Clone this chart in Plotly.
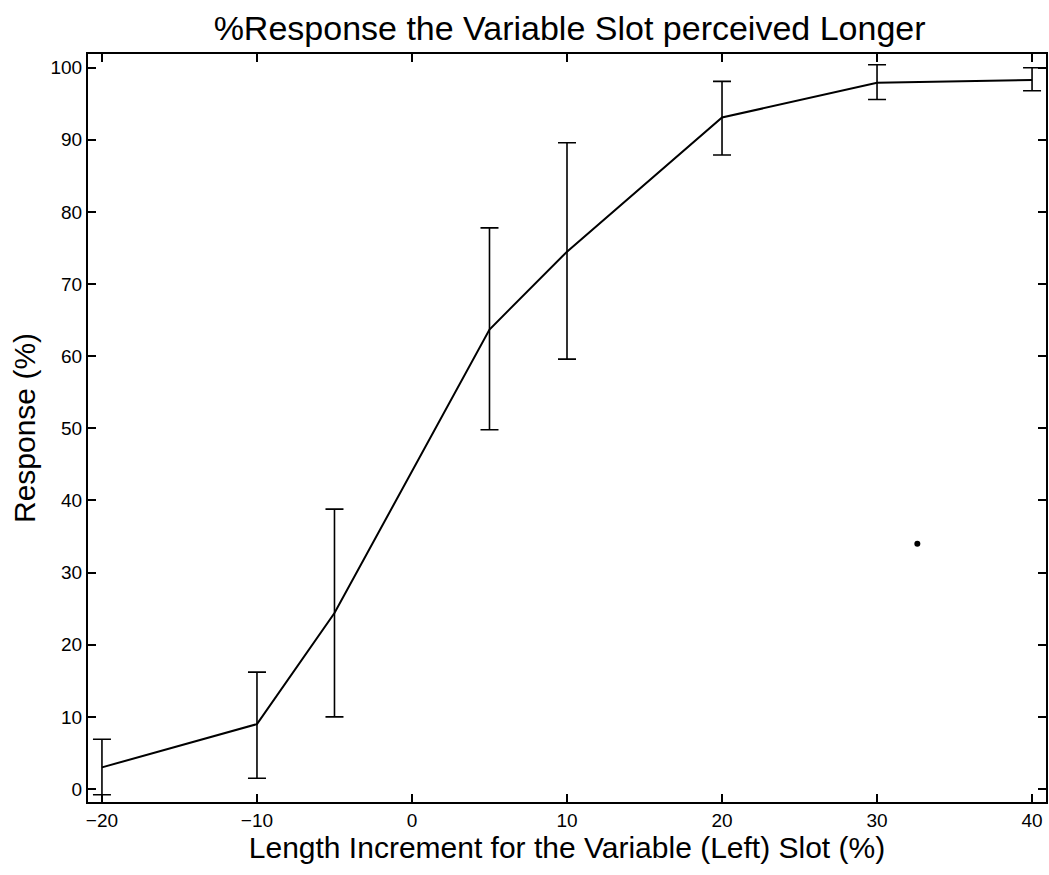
import plotly.graph_objects as go

# Data
x_vals = [-20, -10, -5, 5, 10, 20, 30, 40]
response = [3.0, 9.0, 24.4, 63.7, 74.5, 93.1, 97.9, 98.3]
err_plus = [3.9, 7.2, 14.4, 14.1, 15.1, 5.0, 2.5, 1.7]
err_minus = [3.8, 7.5, 14.4, 13.9, 14.9, 5.2, 2.3, 1.5]
stray_x = [32.6]
stray_y = [34.0]

x_ticks = [-20, -10, 0, 10, 20, 30, 40]
y_ticks = [0, 10, 20, 30, 40, 50, 60, 70, 80, 90, 100]

FONT = "Liberation Sans, Arial, Helvetica, sans-serif"

fig = go.Figure()
fig.add_trace(go.Scatter(
    x=x_vals, y=response, mode="lines",
    line=dict(color="black", width=2),
    error_y=dict(type="data", symmetric=False, array=err_plus, arrayminus=err_minus,
                 color="black", thickness=1.6, width=9),
    showlegend=False, hoverinfo="x+y",
))
fig.add_trace(go.Scatter(
    x=stray_x, y=stray_y, mode="markers",
    marker=dict(color="black", size=6),
    showlegend=False,
))

axis_common = dict(
    showgrid=False, zeroline=False, showline=True, linecolor="black", linewidth=2,
    mirror="allticks", ticks="inside", ticklen=8, tickwidth=1.5, tickcolor="black",
    tickfont=dict(family=FONT, size=19, color="black"), automargin=False,
)

fig.update_layout(
    width=1049, height=875,
    paper_bgcolor="white", plot_bgcolor="white",
    margin=dict(l=88, r=3, t=54, b=73),
    title=dict(text="%Response the Variable Slot perceived Longer",
               x=0.543, xanchor="center", y=0.968, yanchor="middle",
               font=dict(family=FONT, size=34, color="black")),
    xaxis=dict(range=[-20.9, 40.9], tickvals=x_ticks,
               title=dict(text="Length Increment for the Variable (Left) Slot (%)",
                          font=dict(family=FONT, size=30, color="black"), standoff=2),
               **axis_common),
    yaxis=dict(range=[-1.8, 101.9], tickvals=y_ticks,
               title=dict(text="Response (%)",
                          font=dict(family=FONT, size=30, color="black"), standoff=6),
               **axis_common),
)

fig.write_html("out.html", config={"displayModeBar": False},
               post_script="document.body.style.margin='0';document.body.style.overflow='hidden';")
